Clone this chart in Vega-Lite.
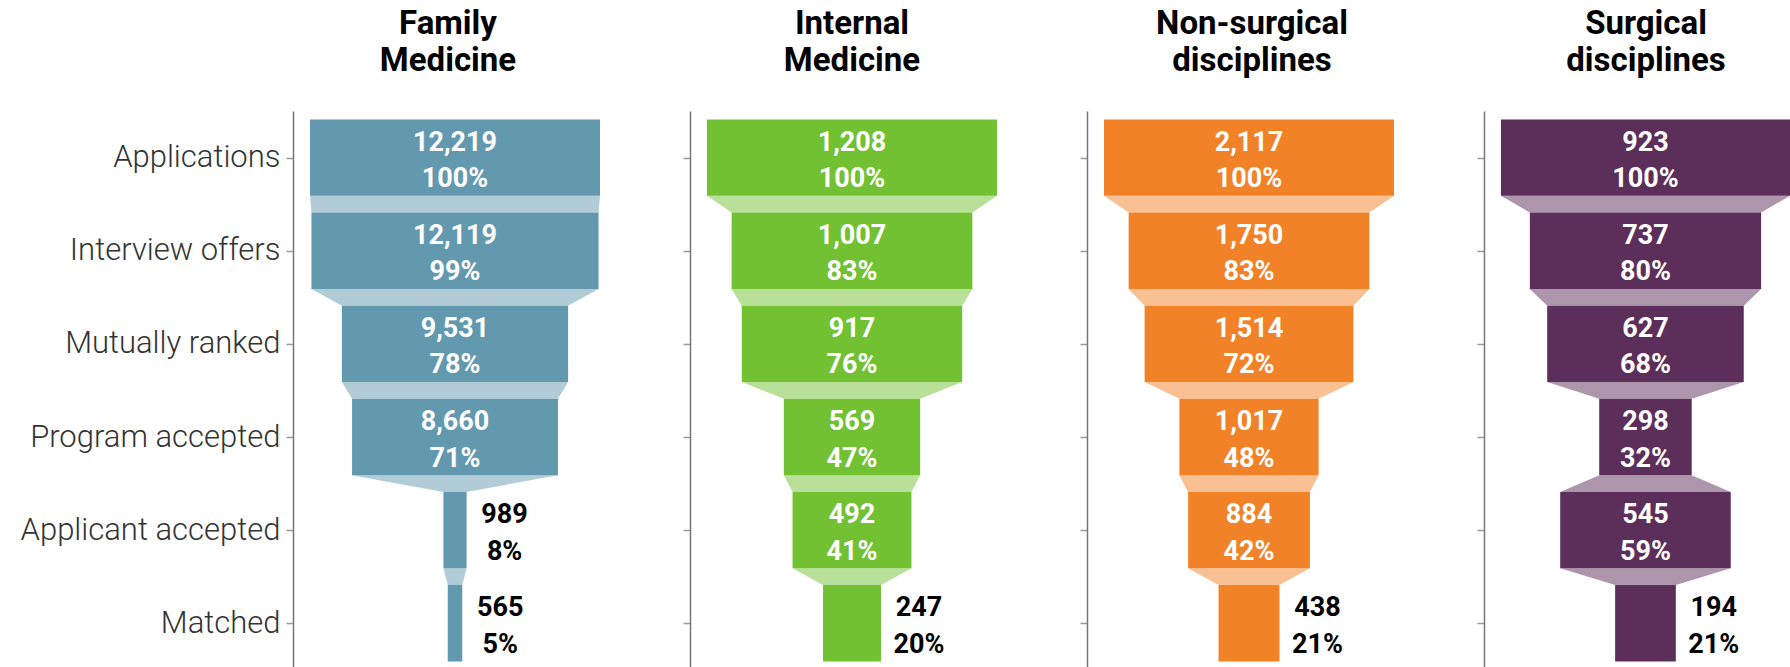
{
  "$schema": "https://vega.github.io/schema/vega-lite/v6.json",
  "background": "white",
  "padding": {"left": 20, "top": 8, "right": 0, "bottom": 0},
  "bounds": "flush",
  "spacing": 73,
  "data": {"values": [
    {"panel": "FM", "row": 0, "count": 12219, "pct": 100},
    {"panel": "FM", "row": 1, "count": 12119, "pct": 99},
    {"panel": "FM", "row": 2, "count": 9531, "pct": 78},
    {"panel": "FM", "row": 3, "count": 8660, "pct": 71},
    {"panel": "FM", "row": 4, "count": 989, "pct": 8},
    {"panel": "FM", "row": 5, "count": 565, "pct": 5},
    {"panel": "IM", "row": 0, "count": 1208, "pct": 100},
    {"panel": "IM", "row": 1, "count": 1007, "pct": 83},
    {"panel": "IM", "row": 2, "count": 917, "pct": 76},
    {"panel": "IM", "row": 3, "count": 569, "pct": 47},
    {"panel": "IM", "row": 4, "count": 492, "pct": 41},
    {"panel": "IM", "row": 5, "count": 247, "pct": 20},
    {"panel": "NS", "row": 0, "count": 2117, "pct": 100},
    {"panel": "NS", "row": 1, "count": 1750, "pct": 83},
    {"panel": "NS", "row": 2, "count": 1514, "pct": 72},
    {"panel": "NS", "row": 3, "count": 1017, "pct": 48},
    {"panel": "NS", "row": 4, "count": 884, "pct": 42},
    {"panel": "NS", "row": 5, "count": 438, "pct": 21},
    {"panel": "SD", "row": 0, "count": 923, "pct": 100},
    {"panel": "SD", "row": 1, "count": 737, "pct": 80},
    {"panel": "SD", "row": 2, "count": 627, "pct": 68},
    {"panel": "SD", "row": 3, "count": 298, "pct": 32},
    {"panel": "SD", "row": 4, "count": 545, "pct": 59},
    {"panel": "SD", "row": 5, "count": 194, "pct": 21}
  ]},
  "transform": [
    {"calculate": "50 - datum.pct / 2", "as": "lo"},
    {"calculate": "50 + datum.pct / 2", "as": "hi"},
    {"calculate": "format(datum.count, ',') + '\\n' + datum.pct + '%'", "as": "label"}
  ],
  "hconcat": [
    {
      "title": {"text": ["Family", "Medicine"], "dx": -7},
      "width": 324, "height": 557,
      "transform": [{"filter": "datum.panel == 'FM'"}],
      "encoding": {
        "y": {"field": "yy", "type": "quantitative", "scale": {"domain": [-0.5, 5.48], "reverse": true, "nice": false, "zero": false},
          "axis": {"values": [0, 1, 2, 3, 4, 5], "labelExpr": "['Applications','Interview offers','Mutually ranked','Program accepted','Applicant accepted','Matched'][datum.value]", "title": null, "grid": false}},
        "x": {"field": "xx", "type": "quantitative", "scale": {"domain": [-5.86, 105.86], "nice": false, "zero": false}, "axis": null}
      },
      "layer": [
        {
          "transform": [
            {"window": [{"op": "lead", "field": "pct", "as": "nextPct"}], "sort": [{"field": "row"}]},
            {"filter": "datum.nextPct != null"},
            {"fold": ["lo", "hi"], "as": ["edge", "unused"]},
            {"calculate": "datum.edge == 'lo' ? datum.row + 0.41 : datum.row + 0.59", "as": "yy"},
            {"calculate": "datum.edge == 'lo' ? datum.pct : datum.nextPct", "as": "w"},
            {"calculate": "50 - datum.w / 2", "as": "xx"},
            {"calculate": "50 + datum.w / 2", "as": "xx2"}
          ],
          "mark": {"type": "area", "orient": "horizontal", "color": "#6399AE", "opacity": 0.5},
          "encoding": {"x2": {"field": "xx2"}, "detail": {"field": "row", "type": "nominal"}}
        },
        {
          "transform": [
            {"calculate": "datum.row - 0.41", "as": "yy"},
            {"calculate": "datum.row + 0.41", "as": "yy2"},
            {"calculate": "datum.lo", "as": "xx"}
          ],
          "mark": {"type": "rect", "color": "#6399AE"},
          "encoding": {"y2": {"field": "yy2"}, "x2": {"field": "hi"}}
        },
        {
          "transform": [{"filter": "datum.pct >= 30"}, {"calculate": "datum.row", "as": "yy"}, {"calculate": "50", "as": "xx"}],
          "mark": {"type": "text", "color": "white"},
          "encoding": {"text": {"field": "label", "type": "nominal"}}
        },
        {
          "transform": [{"filter": "datum.pct < 30"}, {"calculate": "datum.row", "as": "yy"}, {"calculate": "datum.hi", "as": "xx"}],
          "mark": {"type": "text", "color": "black", "dx": 38},
          "encoding": {"text": {"field": "label", "type": "nominal"}}
        }
      ]
    },
    {
      "title": {"text": ["Internal", "Medicine"]},
      "width": 324, "height": 557,
      "transform": [{"filter": "datum.panel == 'IM'"}],
      "encoding": {
        "y": {"field": "yy", "type": "quantitative", "scale": {"domain": [-0.5, 5.48], "reverse": true, "nice": false, "zero": false},
          "axis": {"values": [0, 1, 2, 3, 4, 5], "labels": false, "title": null, "grid": false}},
        "x": {"field": "xx", "type": "quantitative", "scale": {"domain": [-5.86, 105.86], "nice": false, "zero": false}, "axis": null}
      },
      "layer": [
        {
          "transform": [
            {"window": [{"op": "lead", "field": "pct", "as": "nextPct"}], "sort": [{"field": "row"}]},
            {"filter": "datum.nextPct != null"},
            {"fold": ["lo", "hi"], "as": ["edge", "unused"]},
            {"calculate": "datum.edge == 'lo' ? datum.row + 0.41 : datum.row + 0.59", "as": "yy"},
            {"calculate": "datum.edge == 'lo' ? datum.pct : datum.nextPct", "as": "w"},
            {"calculate": "50 - datum.w / 2", "as": "xx"},
            {"calculate": "50 + datum.w / 2", "as": "xx2"}
          ],
          "mark": {"type": "area", "orient": "horizontal", "color": "#72C133", "opacity": 0.5},
          "encoding": {"x2": {"field": "xx2"}, "detail": {"field": "row", "type": "nominal"}}
        },
        {
          "transform": [
            {"calculate": "datum.row - 0.41", "as": "yy"},
            {"calculate": "datum.row + 0.41", "as": "yy2"},
            {"calculate": "datum.lo", "as": "xx"}
          ],
          "mark": {"type": "rect", "color": "#72C133"},
          "encoding": {"y2": {"field": "yy2"}, "x2": {"field": "hi"}}
        },
        {
          "transform": [{"filter": "datum.pct >= 30"}, {"calculate": "datum.row", "as": "yy"}, {"calculate": "50", "as": "xx"}],
          "mark": {"type": "text", "color": "white"},
          "encoding": {"text": {"field": "label", "type": "nominal"}}
        },
        {
          "transform": [{"filter": "datum.pct < 30"}, {"calculate": "datum.row", "as": "yy"}, {"calculate": "datum.hi", "as": "xx"}],
          "mark": {"type": "text", "color": "black", "dx": 38},
          "encoding": {"text": {"field": "label", "type": "nominal"}}
        }
      ]
    },
    {
      "title": {"text": ["Non-surgical", "disciplines"], "dx": 3},
      "width": 324, "height": 557,
      "transform": [{"filter": "datum.panel == 'NS'"}],
      "encoding": {
        "y": {"field": "yy", "type": "quantitative", "scale": {"domain": [-0.5, 5.48], "reverse": true, "nice": false, "zero": false},
          "axis": {"values": [0, 1, 2, 3, 4, 5], "labels": false, "title": null, "grid": false}},
        "x": {"field": "xx", "type": "quantitative", "scale": {"domain": [-5.86, 105.86], "nice": false, "zero": false}, "axis": null}
      },
      "layer": [
        {
          "transform": [
            {"window": [{"op": "lead", "field": "pct", "as": "nextPct"}], "sort": [{"field": "row"}]},
            {"filter": "datum.nextPct != null"},
            {"fold": ["lo", "hi"], "as": ["edge", "unused"]},
            {"calculate": "datum.edge == 'lo' ? datum.row + 0.41 : datum.row + 0.59", "as": "yy"},
            {"calculate": "datum.edge == 'lo' ? datum.pct : datum.nextPct", "as": "w"},
            {"calculate": "50 - datum.w / 2", "as": "xx"},
            {"calculate": "50 + datum.w / 2", "as": "xx2"}
          ],
          "mark": {"type": "area", "orient": "horizontal", "color": "#F28228", "opacity": 0.5},
          "encoding": {"x2": {"field": "xx2"}, "detail": {"field": "row", "type": "nominal"}}
        },
        {
          "transform": [
            {"calculate": "datum.row - 0.41", "as": "yy"},
            {"calculate": "datum.row + 0.41", "as": "yy2"},
            {"calculate": "datum.lo", "as": "xx"}
          ],
          "mark": {"type": "rect", "color": "#F28228"},
          "encoding": {"y2": {"field": "yy2"}, "x2": {"field": "hi"}}
        },
        {
          "transform": [{"filter": "datum.pct >= 30"}, {"calculate": "datum.row", "as": "yy"}, {"calculate": "50", "as": "xx"}],
          "mark": {"type": "text", "color": "white"},
          "encoding": {"text": {"field": "label", "type": "nominal"}}
        },
        {
          "transform": [{"filter": "datum.pct < 30"}, {"calculate": "datum.row", "as": "yy"}, {"calculate": "datum.hi", "as": "xx"}],
          "mark": {"type": "text", "color": "black", "dx": 38},
          "encoding": {"text": {"field": "label", "type": "nominal"}}
        }
      ]
    },
    {
      "title": {"text": ["Surgical", "disciplines"], "dx": 9},
      "width": 306, "height": 557,
      "transform": [{"filter": "datum.panel == 'SD'"}],
      "encoding": {
        "y": {"field": "yy", "type": "quantitative", "scale": {"domain": [-0.5, 5.48], "reverse": true, "nice": false, "zero": false},
          "axis": {"values": [0, 1, 2, 3, 4, 5], "labels": false, "title": null, "grid": false}},
        "x": {"field": "xx", "type": "quantitative", "scale": {"domain": [-5.86, 100], "nice": false, "zero": false}, "axis": null}
      },
      "layer": [
        {
          "transform": [
            {"window": [{"op": "lead", "field": "pct", "as": "nextPct"}], "sort": [{"field": "row"}]},
            {"filter": "datum.nextPct != null"},
            {"fold": ["lo", "hi"], "as": ["edge", "unused"]},
            {"calculate": "datum.edge == 'lo' ? datum.row + 0.41 : datum.row + 0.59", "as": "yy"},
            {"calculate": "datum.edge == 'lo' ? datum.pct : datum.nextPct", "as": "w"},
            {"calculate": "50 - datum.w / 2", "as": "xx"},
            {"calculate": "50 + datum.w / 2", "as": "xx2"}
          ],
          "mark": {"type": "area", "orient": "horizontal", "color": "#5C2E5A", "opacity": 0.5},
          "encoding": {"x2": {"field": "xx2"}, "detail": {"field": "row", "type": "nominal"}}
        },
        {
          "transform": [
            {"calculate": "datum.row - 0.41", "as": "yy"},
            {"calculate": "datum.row + 0.41", "as": "yy2"},
            {"calculate": "datum.lo", "as": "xx"}
          ],
          "mark": {"type": "rect", "color": "#5C2E5A"},
          "encoding": {"y2": {"field": "yy2"}, "x2": {"field": "hi"}}
        },
        {
          "transform": [{"filter": "datum.pct >= 30"}, {"calculate": "datum.row", "as": "yy"}, {"calculate": "50", "as": "xx"}],
          "mark": {"type": "text", "color": "white"},
          "encoding": {"text": {"field": "label", "type": "nominal"}}
        },
        {
          "transform": [{"filter": "datum.pct < 30"}, {"calculate": "datum.row", "as": "yy"}, {"calculate": "datum.hi", "as": "xx"}],
          "mark": {"type": "text", "color": "black", "dx": 38},
          "encoding": {"text": {"field": "label", "type": "nominal"}}
        }
      ]
    }
  ],
  "config": {
    "view": {"stroke": null},
    "axisY": {
      "tickSize": 7, "tickColor": "#999999", "tickWidth": 1.5,
      "domainColor": "#777777", "domainWidth": 1.5,
      "labelFont": "Roboto", "labelFontSize": 31, "labelFontWeight": 300, "labelColor": "#333333", "labelPadding": 6, "labelLimit": 500
    },
    "title": {"font": "Roboto", "fontSize": 33, "fontWeight": "bold", "color": "#000000", "lineHeight": 37, "frame": "group", "anchor": "middle", "offset": 33},
    "text": {"font": "Roboto", "fontSize": 27, "fontWeight": "bold", "lineBreak": "\n", "lineHeight": 36.5, "baseline": "middle", "align": "center", "dy": -15}
  }
}
